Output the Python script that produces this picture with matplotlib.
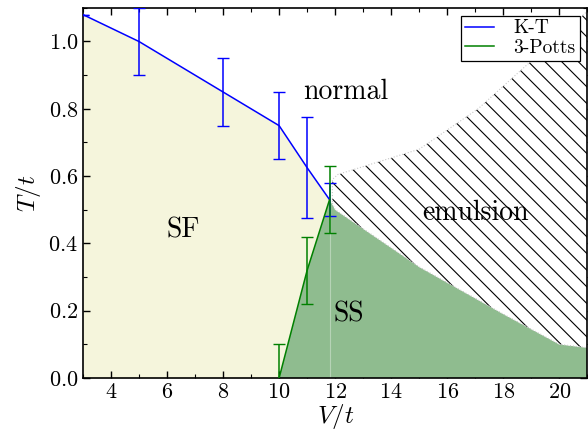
import matplotlib
matplotlib.use('Agg')
import matplotlib.pyplot as plt
from matplotlib.ticker import MultipleLocator

plt.rcParams['font.family'] = 'serif'
plt.rcParams['font.serif'] = ['cmr10', 'DejaVu Serif']
plt.rcParams['mathtext.fontset'] = 'cm'
plt.rcParams['axes.formatter.use_mathtext'] = True
plt.rcParams['hatch.linewidth'] = 0.8

# K-T transition line (superfluid -> normal)
kt_v = [3, 5, 8, 10, 11, 11.8]
kt_t = [1.08, 1.0, 0.85, 0.75, 0.625, 0.53]
kt_err = [0.0, 0.1, 0.1, 0.1, 0.15, 0.05]

# 3-state Potts transition line (SF -> SS)
potts_v = [10, 11, 11.8]
potts_t = [0.0, 0.32, 0.53]
potts_err = [0.1, 0.1, 0.1]

# upper edge of the supersolid region
ss_v = [11.8, 12.0, 14.3, 15.0, 16.5, 18.0, 20.0, 21.0]
ss_t = [0.53, 0.50, 0.37, 0.33, 0.26, 0.19, 0.10, 0.09]

# upper edge of the emulsion region
em_v = [11.9, 12.1, 15.0, 15.7, 17.1, 17.9, 18.7, 21.0]
em_t = [0.59, 0.605, 0.68, 0.72, 0.80, 0.86, 0.92, 1.09]

fig = plt.figure(figsize=(5.88, 4.36), dpi=100)
ax = fig.add_axes([0.141, 0.133, 0.858, 0.849])

# SF region
ax.fill_between(kt_v, 0, kt_t, color='#f5f5dc', lw=0, zorder=1)

# SS region
ss_x = potts_v + ss_v[1:] + [ss_v[-1], potts_v[0]]
ss_y = potts_t + ss_t[1:] + [0, 0]
ax.fill(ss_x, ss_y, color='#8fbc8f', lw=0, zorder=2)
ax.plot([kt_v[-1], kt_v[-1]], [0, kt_t[-1]], color='white', alpha=0.35, lw=0.8, zorder=2)

# emulsion region
low = ss_v[1:]
low_t = ss_t[1:]
em_x = [em_v[0]] + low + em_v[::-1]
em_y = [0.52] + low_t + em_t[::-1]
ax.fill(em_x, em_y, facecolor='white', edgecolor='black', hatch='\\\\', lw=0, zorder=2)
ax.fill(em_x, em_y, facecolor='none', edgecolor='#c8c8c8', ls=':', lw=0.8, zorder=2)

ax.errorbar(kt_v, kt_t, yerr=kt_err, color='blue', lw=1.1, capsize=4,
            elinewidth=1.1, capthick=1.0, label='K-T', zorder=4)
ax.errorbar(potts_v, potts_t, yerr=potts_err, color='green', lw=1.1, capsize=4,
            elinewidth=1.1, capthick=1.0, label='3-Potts', zorder=4)

ax.text(12.36, 0.85, 'normal', fontsize=20, ha='center', va='center')
ax.text(6.57, 0.44, 'SF', fontsize=20, ha='center', va='center')
ax.text(12.5, 0.19, 'SS', fontsize=20, ha='center', va='center')
ax.text(17.0, 0.49, 'emulsion', fontsize=20, ha='center', va='center')

ax.set_xlim(3, 21)
ax.set_ylim(0, 1.1)
ax.xaxis.set_major_locator(MultipleLocator(2))
ax.xaxis.set_minor_locator(MultipleLocator(1))
ax.yaxis.set_major_locator(MultipleLocator(0.2))
ax.yaxis.set_minor_locator(MultipleLocator(0.1))
ax.tick_params(which='both', direction='in', top=True, right=True, labelsize=16)
ax.tick_params(which='major', length=5, width=1)
ax.tick_params(which='minor', length=3, width=0.8)
for s in ax.spines.values():
    s.set_linewidth(1.2)
ax.set_xlabel('$V/t$', fontsize=18, labelpad=0)
ax.set_ylabel('$T/t$', fontsize=18, labelpad=4)

handles, labels = ax.get_legend_handles_labels()
leg = ax.legend([h[0] for h in handles], labels, loc='upper right', fontsize=14,
                fancybox=False, edgecolor='black', framealpha=1,
                handlelength=1.5, handletextpad=1.0, borderpad=0.2,
                labelspacing=0.1, borderaxespad=0.4)
leg.get_frame().set_linewidth(0.9)
leg.set_zorder(5)

fig.savefig('out.png', dpi=100)
